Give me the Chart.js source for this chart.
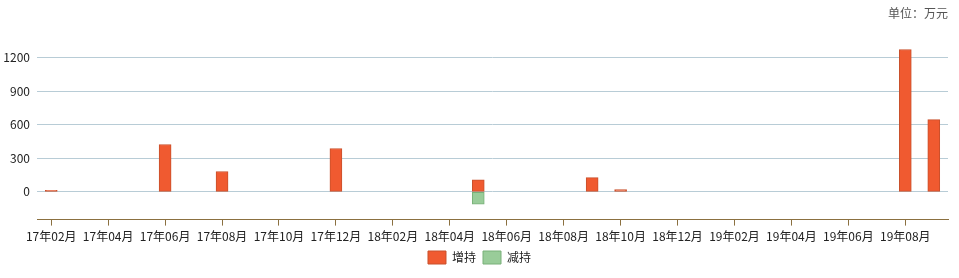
<!DOCTYPE html>
<html>
<head>
<meta charset="utf-8">
<script src="https://cdn.jsdelivr.net/npm/chart.js@4/dist/chart.umd.min.js"></script>
<style>
    html, body { margin: 0; padding: 0; background: #fff; }
    #wrap { position: relative; width: 959px; height: 278px; }
</style>
</head>
<body>
<div id="wrap"><canvas id="holdChart"></canvas></div>
<script>
// months 17年02月 .. 19年09月
const months = [
    '17年02月', '17年03月', '17年04月', '17年05月', '17年06月', '17年07月', '17年08月', '17年09月',
    '17年10月', '17年11月', '17年12月', '18年01月', '18年02月', '18年03月', '18年04月', '18年05月',
    '18年06月', '18年07月', '18年08月', '18年09月', '18年10月', '18年11月', '18年12月', '19年01月',
    '19年02月', '19年03月', '19年04月', '19年05月', '19年06月', '19年07月', '19年08月', '19年09月'
];
const increase = [
    15, null, null, null, 424, null, 182, null,
    null, null, 388, null, null, null, null, 108,
    null, null, null, 128, 20, null, null, null,
    null, null, null, null, null, null, 1274, 647
];
const decrease = [
    null, null, null, null, null, null, null, null,
    null, null, null, null, null, null, null, -110,
    null, null, null, null, null, null, null, null,
    null, null, null, null, null, null, null, null
];
const yTicks = [0, 300, 600, 900, 1200];

const font = { family: '"Noto Sans CJK SC", sans-serif', size: 12 };

// legend sits centred on the whole canvas, not on the padded area
const shiftLegend = {
    id: 'shiftLegend',
    afterLayout: (chart) => {
        if (chart.legend) {
            chart.legend.left += 11;
        }
    },
};

new Chart(document.getElementById('holdChart'), {
    type: 'bar',
    data: {
        labels: months,
        datasets: [
            {
                label: '增持',
                data: increase,
                backgroundColor: '#f05a30',
                borderColor: '#c8502c',
                borderWidth: 1,
                borderSkipped: false,
                barThickness: 12,
            },
            {
                label: '减持',
                data: decrease,
                backgroundColor: '#99cc99',
                borderColor: '#78b078',
                borderWidth: 1,
                borderSkipped: false,
                barThickness: 12,
            },
        ],
    },
    plugins: [shiftLegend],
    options: {
        responsive: true,
        maintainAspectRatio: false,
        animation: false,
        layout: { padding: { left: 0, right: 11, top: 0, bottom: 4 } },
        plugins: {
            title: {
                display: true,
                text: '单位：万元',
                align: 'end',
                color: '#555',
                font: { ...font, weight: 'normal' },
                padding: { top: 6, bottom: 13 },
            },
            legend: {
                position: 'bottom',
                labels: {
                    color: '#222',
                    font,
                    boxWidth: 18,
                    boxHeight: 13,
                    padding: 7,
                },
            },
            tooltip: { enabled: false },
        },
        scales: {
            x: {
                stacked: true,
                offset: true,
                border: { display: true, color: '#8b7040', width: 1 },
                grid: {
                    offset: false,
                    drawOnChartArea: false,
                    color: '#8b7040',
                    tickLength: 6,
                },
                ticks: {
                    autoSkip: false,
                    maxRotation: 0,
                    color: '#222',
                    font,
                    padding: 4,
                    callback: (value, index) => (index % 2 === 0 ? months[index] : null),
                },
                afterFit: (axis) => {
                    axis.height -= 4;
                },
            },
            y: {
                stacked: true,
                min: -248,
                max: 1418,
                border: { display: false },
                grid: { color: '#b8ccd6', drawTicks: false },
                ticks: {
                    color: '#222',
                    font,
                    padding: 7,
                    callback: (value) => String(value),
                },
                afterBuildTicks: (axis) => {
                    axis.ticks = yTicks.map((v) => ({ value: v }));
                },
                afterFit: (axis) => {
                    axis.width = 37;
                },
            },
        },
    },
});
</script>
</body>
</html>
